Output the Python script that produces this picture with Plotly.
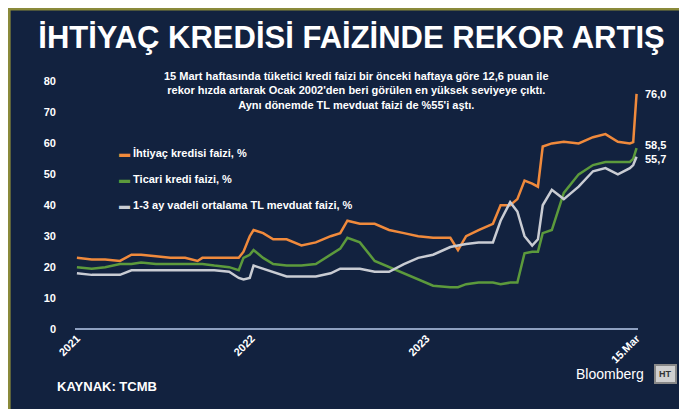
import plotly.graph_objects as go

dates = ["2021-01-01","2021-02-01","2021-03-01","2021-04-01","2021-04-25","2021-05-15","2021-06-15","2021-07-15","2021-08-15","2021-09-10","2021-09-20","2021-10-15","2021-11-15","2021-12-05","2021-12-15","2021-12-28",
         "2022-01-05","2022-01-25","2022-02-15","2022-03-15","2022-04-15","2022-05-15","2022-06-15","2022-07-05","2022-07-20","2022-08-15","2022-09-15","2022-10-15","2022-11-15","2022-12-15",
         "2023-01-15","2023-02-20","2023-03-08","2023-03-25","2023-04-20","2023-05-20","2023-06-05","2023-06-25","2023-07-10","2023-07-25","2023-08-10","2023-08-22","2023-09-01","2023-09-20","2023-10-15","2023-11-15","2023-12-15",
         "2024-01-10","2024-02-05","2024-03-01","2024-03-08","2024-03-15"]
ihtiyac = [23,22.5,22.5,22,24,24,23.5,23,23,22,23,23,23,23,25,30,
           32,31,29,29,27,28,30,31,35,34,34,32,31,30,
           29.5,29.5,25.5,30,32,34,40,40,42,48,47,46,59,60,60.5,60,62,
           63,60.5,60,60.4,76.0]
ticari = [20,19.5,20,21,21,21.5,21,21,21,21,21,20.5,20,19,23,24,
          25.5,23,21,20.5,20.5,21,24,26,29.5,28,22,20,18,16,
          14,13.5,13.5,14.5,15,15,14.5,15,15,24.5,25,25,31,32,44,50,53,
          54,54,54,55,58.5]
mevduat = [18,17.5,17.5,17.5,19,19,19,19,19,19,19,19,18.5,16.5,16,16.5,
           20.5,19.5,18.5,17,17,17,18,19.5,19.5,19.5,18.5,18.5,21,23,
           24,26.5,27,27.5,28,28,35,41,38,30,27,29,40,45,42,46,51,
           52,50,52,53,55.7]

names = ["İhtiyaç kredisi faizi, %","Ticari kredi faizi, %","1-3 ay vadeli ortalama TL mevduat faizi, %"]
colors = ["#f08a3c","#5c9a3c","#c9ccd3"]
series = [ihtiyac, ticari, mevduat]
end_labels = ["76,0","58,5","55,7"]
end_y = [76.0, 59.5, 55.0]

fig = go.Figure()
for s, n, c in zip(series, names, colors):
    fig.add_trace(go.Scatter(x=dates, y=s, name=n, mode="lines", line=dict(color=c, width=2.5)))

for lab, y in zip(end_labels, end_y):
    fig.add_annotation(x=dates[-1], y=y, text=f"<b>{lab}</b>", showarrow=False, xanchor="left", xshift=6,
                       font=dict(color="white", size=11))

ly = [57, 48.5, 40]
for n, c, y in zip(names, colors, ly):
    fig.add_annotation(xref="paper", x=0.075, y=y, text=f"<b><span style='color:{c}'>▬</span> {n}</b>",
                       showarrow=False, xanchor="left", font=dict(color="white", size=11))

fig.add_annotation(xref="paper", yref="paper", x=0.5, y=1.05,
                   text="<b>15 Mart haftasında tüketici kredi faizi bir önceki haftaya göre 12,6 puan ile<br>rekor hızda artarak Ocak 2002'den beri görülen en yüksek seviyeye çıktı.<br>Aynı dönemde TL mevduat faizi de %55'i aştı.</b>",
                   showarrow=False, font=dict(color="white", size=11), align="center", yanchor="top")

W, H, L, R, T, B = 687, 409, 67, 57, 72, 88
pw, ph = W - L - R, H - T - B
fig.update_layout(
    width=W, height=H, paper_bgcolor="#12223f", plot_bgcolor="#12223f",
    showlegend=False,
    title=dict(text="<b>İHTİYAÇ KREDİSİ FAİZİNDE REKOR ARTIŞ</b>", x=0.5, y=0.955, xanchor="center",
               font=dict(color="white", size=31, family="Liberation Sans")),
    font=dict(family="Liberation Sans", color="white"),
    margin=dict(l=L, r=R, t=T, b=B),
    xaxis=dict(tickvals=["2021-01-01","2022-01-01","2023-01-01","2024-03-15"], ticktext=["<b>2021</b>","<b>2022</b>","<b>2023</b>","<b>15.Mar</b>"],
               tickangle=-45, showgrid=False, zeroline=False, tickfont=dict(size=11, color="white"),
               range=["2020-12-28","2024-03-18"]),
    yaxis=dict(range=[0, 80.5], tickvals=list(range(0, 81, 10)), ticktext=[f"<b>{v}</b>" for v in range(0, 81, 10)],
               showgrid=False, zeroline=True, zerolinecolor="#8ea0c0", zerolinewidth=1.5,
               tickfont=dict(size=11, color="white"), ticklabelstandoff=18),
    shapes=[dict(type="rect", xref="paper", yref="paper", x0=-L/pw + 0.002, y0=-B/ph + 0.004,
                 x1=1 + R/pw - 0.002, y1=1 + T/ph - 0.004, line=dict(color="#8a8a3a", width=3))]
)
fig.add_annotation(xref="paper", yref="paper", x=-0.035, y=-0.27, text="<b>KAYNAK: TCMB</b>", showarrow=False,
                   xanchor="left", font=dict(color="white", size=13))
fig.add_annotation(xref="paper", yref="paper", x=1.015, y=-0.22, text="Bloomberg", showarrow=False,
                   xanchor="right", font=dict(color="white", size=14))
fig.add_annotation(xref="paper", yref="paper", x=1.07, y=-0.22, text="<b>HT</b>", showarrow=False,
                   font=dict(color="#333", size=9), bgcolor="#d0d0d0", bordercolor="#888", borderwidth=2, borderpad=3)
fig.write_html("out.html")
